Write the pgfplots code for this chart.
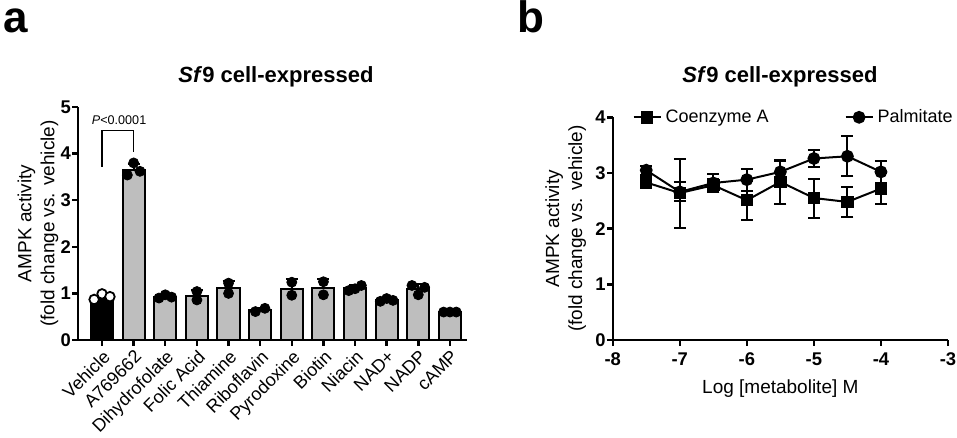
\documentclass[border=0pt]{standalone}
\usepackage{fontspec}
\setmainfont{Liberation Sans}
\setsansfont{Liberation Sans}
\usepackage{pgfplots}
\pgfplotsset{compat=1.18}
\definecolor{barg}{HTML}{BEBEBE}
\pgfplotsset{
 myaxis/.style={
  scale only axis,
  axis lines*=left,
  axis line style={line width=1.2pt, -},
  tick style={line width=1.2pt, black},
  tick align=outside,
  major tick length=2.8pt,
  tick label style={font=\fontsize{9.2}{11}\selectfont\bfseries},
  yticklabel style={inner sep=0.6pt},
  label style={font=\fontsize{9.5}{11.5}\selectfont},
  /pgf/number format/assume math mode=true,
  ylabel style={align=center},
  clip=false,
 }
}
\begin{document}
\begin{tikzpicture}
\useasboundingbox (0,0) rectangle (478.5pt,-219pt);
\node[anchor=base west, inner sep=0pt, font=\fontsize{22}{24}\selectfont\bfseries] at (1.5pt,-16.5pt) {a};
\node[anchor=base west, inner sep=0pt, font=\fontsize{22}{24}\selectfont\bfseries] at (258.5pt,-16.5pt) {b};
\node[font=\fontsize{11}{12}\selectfont\bfseries] at (138pt,-38.5pt) {\textit{Sf}9 cell-expressed};
\node[font=\fontsize{11}{12}\selectfont\bfseries] at (390pt,-38.5pt) {\textit{Sf}9 cell-expressed};

\begin{axis}[myaxis, at={(39pt,-170pt)}, anchor=south west,
  width=194.5pt, height=116.5pt,
  xmin=-0.76, xmax=11.54, ymin=0, ymax=5,
  ytick={0,1,2,3,4,5}, xtick={0,...,11},
  xticklabels={Vehicle,A769662,Dihydrofolate,Folic Acid,Thiamine,Riboflavin,Pyrodoxine,Biotin,Niacin,NAD+,NADP,cAMP},
  xticklabel style={rotate=45, anchor=north east, font=\fontsize{9}{10}\selectfont, inner sep=1pt},
  ylabel={AMPK activity\\(fold change vs. vehicle)},
  ylabel style={at={(axis description cs:-0.103,0.5)}, anchor=center},
]
\addplot[ybar, bar width=0.7, bar shift=0pt, fill=black, draw=black, line width=1pt] coordinates {(0,0.93)};
\addplot[ybar, bar width=0.7, bar shift=0pt, fill=barg, draw=black, line width=1pt,
  error bars/.cd, y dir=plus, y explicit, error bar style={line width=1pt, black},
  error mark options={rotate=90, mark size=3pt, line width=1pt, black}]
  table[x=x, y=y, y error=e] {
x y e
1 3.65 0.13
2 0.93 0.04
3 0.95 0.13
4 1.11 0.15
5 0.645 0.05
6 1.10 0.20
7 1.11 0.20
8 1.11 0.06
9 0.857 0.03
10 1.09 0.11
11 0.60 0.01
};
\addplot[only marks, mark=*, mark size=2.4pt, mark options={fill=white, draw=black, line width=0.9pt}] table {
x y
-0.25 0.87
0 0.99
0.25 0.93
};
\addplot[only marks, mark=*, mark size=2.5pt, black] table {
x y
0.8 3.54
1.0 3.80
1.2 3.62
1.8 0.90
2.0 0.97
2.2 0.92
3 0.86
3 1.04
4 1.22
4 1.00
4.85 0.61
5.15 0.68
6 1.24
6 0.96
7 1.25
7 0.97
7.8 1.06
8.0 1.10
8.2 1.17
8.8 0.83
9.0 0.89
9.2 0.85
9.8 1.17
10.0 0.97
10.2 1.13
10.8 0.60
11.0 0.60
11.2 0.60
};
\addplot[black, line width=0.6pt, mark=none] coordinates {(0,3.72) (0,4.49) (1,4.49) (1,4.04)};
\node[font=\fontsize{6.3}{7}\selectfont] at (axis cs:0.54,4.72) {\textit{P}<0.0001};
\end{axis}

\begin{axis}[myaxis, at={(306.35pt,-170pt)}, anchor=south west,
  width=167.65pt, height=111.35pt,
  xmin=-8, xmax=-3, ymin=0, ymax=4,
  xtick={-8,-7,-6,-5,-4,-3}, ytick={0,1,2,3,4},
  xlabel={Log [metabolite] M},
  ylabel={AMPK activity\\(fold change vs. vehicle)},
  ylabel style={at={(axis description cs:-0.14,0.5)}, anchor=center},
  legend columns=2,
  legend cell align=left,
  legend style={draw=none, fill=none, at={(axis cs:-7.71,4)}, anchor=west, inner sep=0pt,
    font=\fontsize{9}{10}\selectfont, /tikz/every even column/.append style={column sep=36pt}},
  legend image code/.code={\draw[mark repeat=2, mark phase=2, #1] plot coordinates {(0pt,0pt) (6.75pt,0pt) (13.5pt,0pt)};},
]
\addplot[black, line width=1pt, mark=square*, mark size=2.6pt, mark options={solid},
  error bars/.cd, y dir=both, y explicit, error bar style={line width=1pt, black},
  error mark options={rotate=90, mark size=3pt, line width=1pt, black}]
  table[x=x, y=y, y error=e] {
x y e
-7.5 2.83 0.04
-7 2.64 0.62
-6.5 2.78 0.12
-6 2.51 0.35
-5.5 2.84 0.40
-5 2.55 0.35
-4.5 2.48 0.27
-4 2.72 0.28
};
\addlegendentry{Coenzyme A}
\addplot[black, line width=1pt, mark=*, mark size=2.7pt, mark options={solid},
  error bars/.cd, y dir=both, y explicit, error bar style={line width=1pt, black},
  error mark options={rotate=90, mark size=3pt, line width=1pt, black}]
  table[x=x, y=y, y error=e] {
x y e
-7.5 3.05 0.08
-7 2.66 0.17
-6.5 2.82 0.17
-6 2.88 0.20
-5.5 3.02 0.20
-5 3.26 0.16
-4.5 3.30 0.36
-4 3.02 0.20
};
\addlegendentry{Palmitate}
\end{axis}
\end{tikzpicture}
\end{document}
